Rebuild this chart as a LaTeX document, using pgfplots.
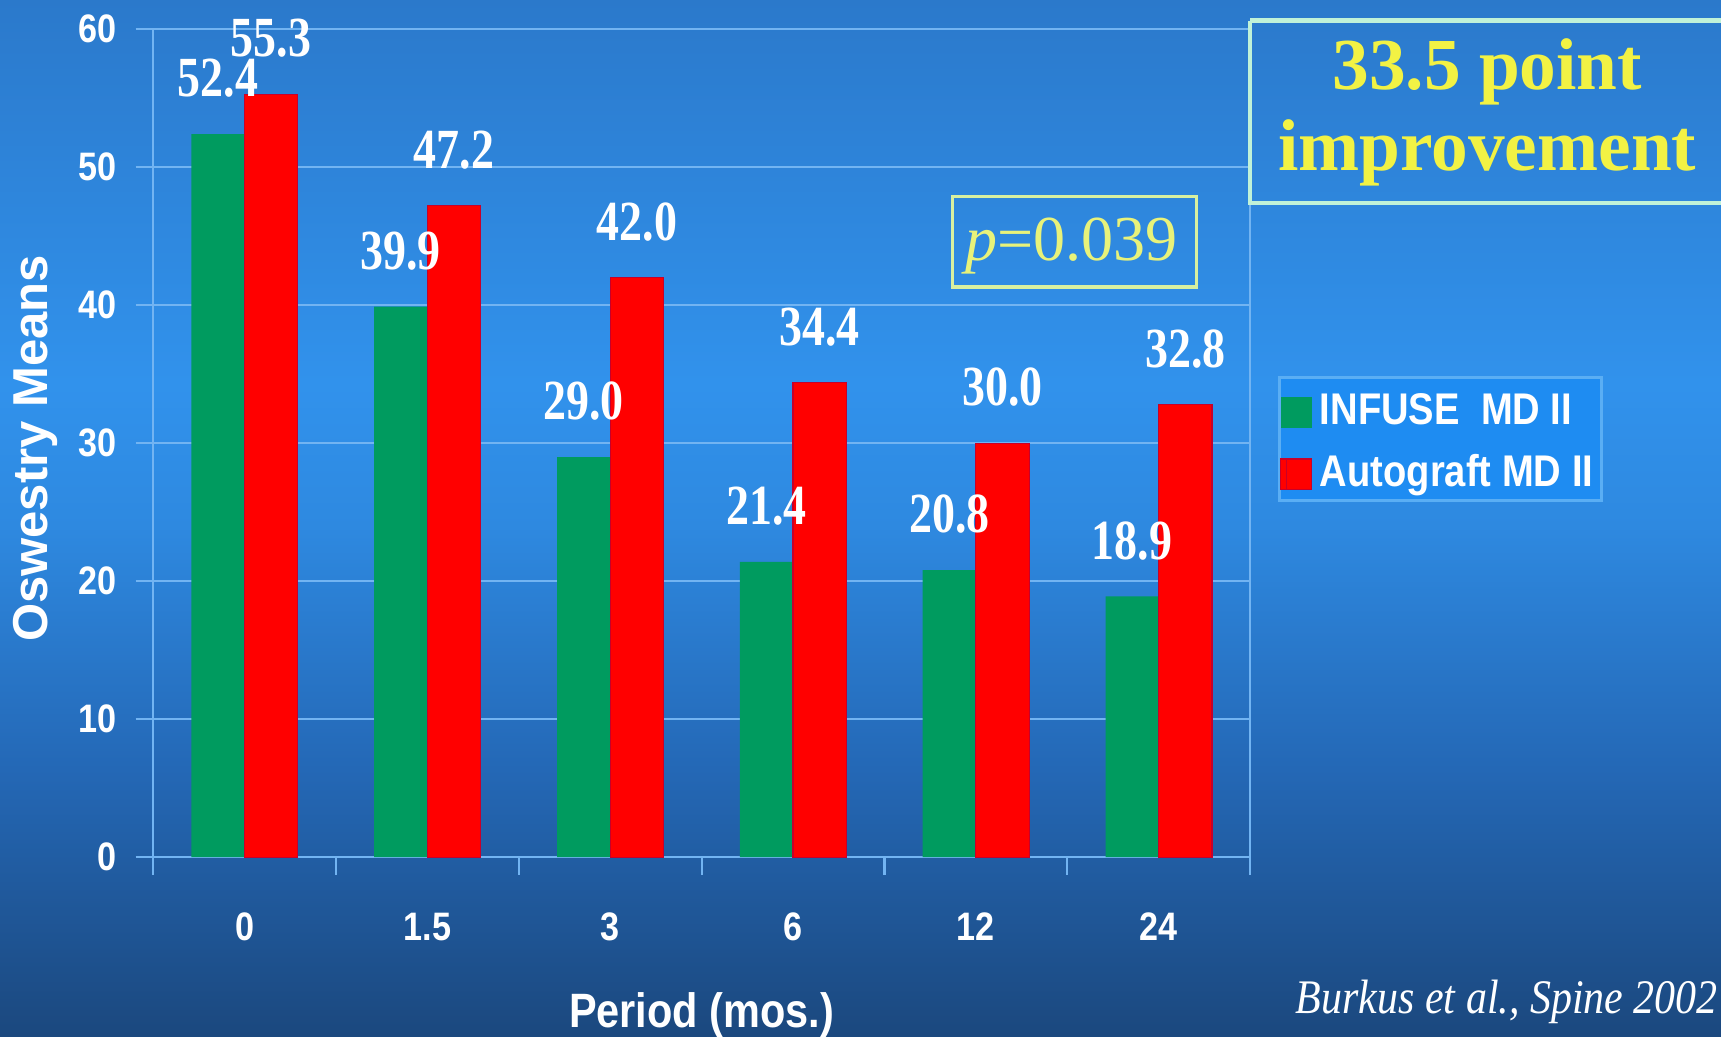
\documentclass[border=0pt]{standalone}
\usepackage{fontspec}
\usepackage{pgfplots}
\pgfplotsset{compat=1.18}

\setmainfont{Liberation Serif}
\newfontfamily\narrowsans[FakeStretch=0.86]{Liberation Sans}
\newfontfamily\plainsans{Liberation Sans}
\newfontfamily\valserif[FakeStretch=0.81]{Liberation Serif}
\newfontfamily\citeserif[FakeStretch=0.87]{Liberation Serif}

% slide background
\definecolor{bgtop}{HTML}{2B79CB}
\definecolor{bgc3}{HTML}{3192EC}
\definecolor{bgc2}{HTML}{2E89E0}
\definecolor{bgc1}{HTML}{2468B6}
\definecolor{bgbot}{HTML}{1B487E}
% chart elements
\definecolor{gridc}{HTML}{72B4F2}
\definecolor{infuse}{HTML}{009B5F}
\definecolor{autograft}{HTML}{FF0000}
\definecolor{autoedge}{HTML}{C8002A}
\definecolor{legfill}{HTML}{1E8CF2}
\definecolor{legborder}{HTML}{5AAEF4}
\definecolor{boxborder}{HTML}{C0F2D8}
\definecolor{boxtext}{HTML}{F2F244}
\definecolor{pborder}{HTML}{D8F0A0}
\definecolor{ptext}{HTML}{E8F27A}

\pgfdeclareverticalshading{slidebg}{100bp}{%
  color(0bp)=(bgbot); color(25bp)=(bgbot); color(37.9bp)=(bgc1);
  color(49.6bp)=(bgc2); color(56.5bp)=(bgc3); color(75bp)=(bgtop);
  color(100bp)=(bgtop)}

\begin{document}
\begin{tikzpicture}
\useasboundingbox (0,0) rectangle (156.8mm,94.4mm);
\shade[shading=slidebg] (0,0) rectangle (156.8mm,94.4mm);

\begin{axis}[
  at={(13.95mm,16.3mm)}, anchor=south west,
  width=99.95mm, height=75.43mm, scale only axis,
  xmin=-0.5, xmax=5.5, ymin=0, ymax=60,
  ybar=0pt, bar width=0.291,
  xtick={-0.5,0.5,...,5.5},
  xticklabels={0,1.5,3,6,12,24},
  x tick label as interval,
  ytick={0,10,...,60},
  tick pos=left,
  tick align=outside,
  major tick length=1.6mm,
  ymajorgrids,
  grid style={gridc, line width=0.2mm},
  axis line style={gridc, line width=0.2mm},
  tick style={gridc, line width=0.2mm},
  /pgf/number format/assume math mode=true,
  xticklabel style={font=\narrowsans\bfseries\fontsize{10.3}{12}\selectfont,
    text=white, inner sep=0pt, anchor=north, yshift=-3.4mm},
  yticklabel style={font=\narrowsans\bfseries\fontsize{10.3}{12}\selectfont,
    text=white, inner sep=0pt, anchor=east, xshift=-1.7mm},
  xlabel={Period (mos.)},
  xlabel style={at={(axis description cs:0.5,0)}, anchor=base,
    yshift=-15.5mm, inner sep=0pt,
    font=\narrowsans\bfseries\fontsize{12.5}{14}\selectfont, text=white},
  ylabel={Oswestry Means},
  ylabel style={at={(axis description cs:-0.1075,0.4938)}, anchor=center,
    inner sep=0pt,
    font=\plainsans\bfseries\fontsize{12.7}{14}\selectfont, text=white},
  nodes near coords={\pgfmathprintnumber[fixed,fixed zerofill,precision=1]{\pgfplotspointmeta}},
  nodes near coords style={font=\valserif\bfseries\fontsize{14.7}{16}\selectfont,
    text=white, anchor=base, inner sep=0pt, yshift=3.4mm},
  legend style={
    at={(1.02551,0.58120)}, anchor=north west,
    fill=legfill, draw=legborder, line width=0.3mm,
    font=\narrowsans\bfseries\fontsize{11.5}{13}\selectfont,
    text=white,
    inner xsep=0.05mm, inner ysep=0.55mm,
    row sep=1.25mm,
    nodes={inner sep=2pt, text height=3.0mm, text depth=0pt},
  },
  legend cell align=left,
  legend image code/.code={%
    \path (-0.5mm,-1.8mm) rectangle (2.3mm,1.0mm);
    \fill[#1] (0mm,-1.8mm) rectangle (2.3mm,1.0mm);},
]
\addplot[fill=infuse, draw=none]
  coordinates {(0,52.4) (1,39.9) (2,29.0) (3,21.4) (4,20.8) (5,18.9)};
\addlegendentry{INFUSE\ \ MD II}
\addplot[fill=autograft, draw=autoedge, line width=0.3pt]
  coordinates {(0,55.3) (1,47.2) (2,42.0) (3,34.4) (4,30.0) (5,32.8)};
\addlegendentry{Autograft MD II\hspace{1.35mm}}
\end{axis}

% headline box
\draw[boxborder, line width=0.4mm] (113.9mm,92.52mm) -- (113.9mm,75.93mm)
  -- (160mm,75.93mm) (113.9mm,92.52mm) -- (160mm,92.52mm);
\node[anchor=base, inner sep=0pt, text=boxtext,
  font=\bfseries\fontsize{19}{21}\selectfont] at (135.5mm,86.2mm) {33.5 point};
\node[anchor=base, inner sep=0pt, text=boxtext,
  font=\bfseries\fontsize{19}{21}\selectfont] at (135.5mm,78.9mm) {improvement};

% significance box
\draw[pborder, line width=0.3mm] (86.8mm,76.5mm) rectangle (109.0mm,68.25mm);
\node[anchor=base west, inner sep=0pt, text=ptext,
  font=\fontsize{16.6}{18}\selectfont] at (87.9mm,70.7mm) {\itshape p\upshape=0.039};

% source
\node[anchor=base west, inner sep=0pt, text=white,
  font=\citeserif\itshape\fontsize{12.5}{14}\selectfont] at (118.0mm,2.1mm)
  {Burkus et al., Spine 2002};
\end{tikzpicture}
\end{document}
